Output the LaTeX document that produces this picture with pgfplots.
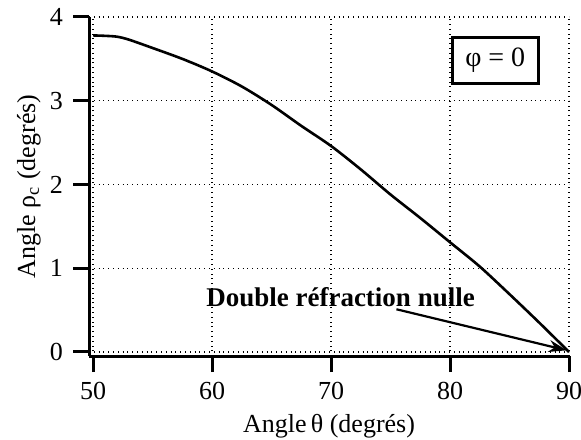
\documentclass[border=0pt]{standalone}
\usepackage{pgfplots}
\pgfplotsset{compat=1.18}
\usepackage{fontspec}
\setmainfont{Liberation Serif}
\usetikzlibrary{calc,arrows.meta}
\begin{document}
\begin{tikzpicture}
\begin{axis}[
  scale only axis,
  width=240pt, height=169.5pt,
  xmin=49.66, xmax=90, ymin=-0.048, ymax=4,
  axis x line=bottom, axis y line=left,
  axis line style={-, line width=1.5pt},
  xtick={50,60,70,80,90}, ytick={0,1,2,3,4},
  tick align=outside, major tick length=8pt,
  tick style={line width=1.5pt, black},
  grid=major,
  major grid style={dotted, black, line width=0.6pt},
  /pgf/number format/assume math mode=true,
  ticklabel style={font=\fontsize{13}{15}\selectfont},
  xticklabel style={yshift=-1.5pt},
  yticklabel style={xshift=-1.5pt},
  clip=false,
]
\addplot[black, line width=1.3pt, smooth] coordinates {
(50,3.78) (51,3.775) (52,3.765) (53,3.73) (55,3.63) (57.5,3.5) (60,3.35)
(62.5,3.17) (65,2.95) (67.5,2.70) (70,2.46) (72.5,2.18) (75,1.88)
(77.5,1.60) (80,1.31) (82.5,1.02) (85,0.69) (87.5,0.35) (90,0)
};
\draw[-{Stealth[length=9pt,width=6pt]}, line width=1.1pt] (axis cs:75.5,0.51) -- (axis cs:89.8,0.02);
\node[font=\fontsize{13.5}{15}\selectfont\bfseries] at (axis cs:70.8,0.66) {Double réfraction nulle};
\node[draw, line width=1.5pt, minimum width=43pt, minimum height=23pt, fill=white, font=\fontsize{14}{16}\selectfont] at (axis cs:83.8,3.48) {φ = 0};
\coordinate (sw) at (rel axis cs:0,0);
\coordinate (ne) at (rel axis cs:1,1);
\end{axis}
\node[font=\fontsize{13}{15}\selectfont] at ($(sw)!0.5!(sw-|ne)+(0,-35pt)$) {Angle\,θ (degrés)};
\node[font=\fontsize{13}{15}\selectfont, rotate=90] at ($(sw)!0.5!(sw|-ne)+(-30pt,0)$) {Angle ρ\textsubscript{c} (degrés)};
\pgfresetboundingbox
\path ($(sw)+(-44.5pt,-41.5pt)$) rectangle ($(ne)+(6pt,8.5pt)$);
\end{tikzpicture}
\end{document}
